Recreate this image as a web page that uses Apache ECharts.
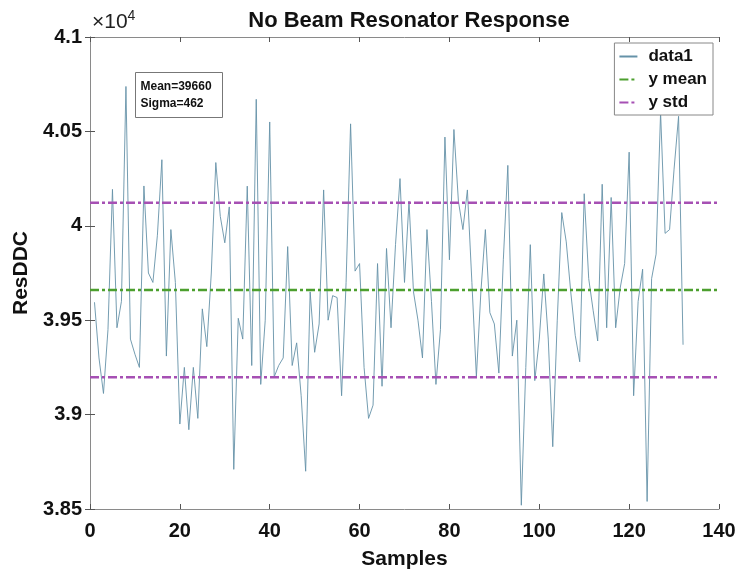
<!DOCTYPE html>
<html><head><meta charset="utf-8">
<script src="https://cdn.jsdelivr.net/npm/echarts@6/dist/echarts.min.js"></script>
<style>html,body{margin:0;padding:0;background:#fff}#c{width:747px;height:575px}</style>
</head><body><div id="c"></div>
<script>
// ResDDC value for samples 1..132
const resDDC = [
39595,39300,39112,39450,40193,39460,39600,40738,39400,39320,
39250,40211,39750,39700,39950,40350,39310,39980,39700,38950,
39250,38920,39250,38980,39560,39360,39750,40335,40050,39910,
40100,38710,39510,39400,40210,39260,40670,39160,39500,40550,
39200,39260,39300,39890,39260,39380,39100,38700,39650,39330,
39480,40190,39500,39630,39620,39100,39700,40540,39760,39800,
39250,38980,39050,39800,39150,39880,39460,39900,40250,39700,
40130,39650,39500,39300,39980,39600,39160,39450,40470,39820,
40510,40130,39980,40190,39700,39200,39650,39980,39540,39480,
39220,39820,40320,39310,39500,38520,39250,39900,39180,39400,
39745,39400,38830,39500,40070,39915,39650,39420,39280,40170,
39720,39550,39390,40220,39460,40150,39460,39670,39800,40390,
39100,39600,39770,38540,39720,39850,40600,39960,39980,40300,
40580,39370];
const meanValue = 39660;
const sigmaValue = 462;
const xRange = [0, 140];
const yRange = [38500, 41000];
const xTickStep = 20;
const yTickStep = 500;
const statsLines = ['Mean=39660', 'Sigma=462'];

const FONT = "'Liberation Sans', Arial, Helvetica, sans-serif";
const dataPts = resDDC.map((v, i) => [i + 1, v]);
const meanPts = [[xRange[0], meanValue], [xRange[1], meanValue]];
const hiPts = [[xRange[0], meanValue + sigmaValue], [xRange[1], meanValue + sigmaValue]];
const loPts = [[xRange[0], meanValue - sigmaValue], [xRange[1], meanValue - sigmaValue]];

const chart = echarts.init(document.getElementById('c'), null, {renderer: 'canvas'});
const axisColor = '#8a8a8a';
const tickCommon = {show: true, inside: true, length: 5, lineStyle: {color: '#555', width: 1}};
const yFmt = v => String(parseFloat((v / 10000).toFixed(3)));
chart.setOption({
  animation: false,
  backgroundColor: '#fff',
  title: {
    text: 'No Beam Resonator Response',
    left: 404, top: 5, textAlign: 'center',
    textStyle: {fontFamily: FONT, fontWeight: 'bold', fontSize: 22, color: '#111'}
  },
  grid: {left: 90, right: 28, top: 37, bottom: 64, containLabel: false},
  legend: {
    right: 34, top: 43,
    orient: 'vertical',
    backgroundColor: '#fff',
    borderColor: '#888', borderWidth: 1,
    padding: [5, 6, 4, 4],
    itemGap: 6, itemWidth: 18, itemHeight: 10,
    itemStyle: {opacity: 0},
    textStyle: {fontFamily: FONT, fontWeight: 'bold', fontSize: 17, color: '#111', padding: [0, 0, 0, 6]},
    data: ['data1', 'y mean', 'y std']
  },
  xAxis: [{
    type: 'value', min: xRange[0], max: xRange[1], interval: xTickStep,
    name: 'Samples', nameLocation: 'middle', nameGap: 40,
    nameTextStyle: {fontFamily: FONT, fontWeight: 'bold', fontSize: 21, color: '#111'},
    axisLine: {show: true, lineStyle: {color: axisColor}},
    axisTick: tickCommon,
    axisLabel: {fontFamily: FONT, fontWeight: 'bold', fontSize: 20, color: '#111', margin: 12},
    splitLine: {show: false}
  }, {
    type: 'value', position: 'top', min: xRange[0], max: xRange[1], interval: xTickStep,
    axisLine: {show: true, lineStyle: {color: axisColor}},
    axisTick: tickCommon, axisLabel: {show: false}, splitLine: {show: false}
  }],
  yAxis: [{
    type: 'value', min: yRange[0], max: yRange[1], interval: yTickStep,
    name: 'ResDDC', nameLocation: 'middle', nameGap: 52, nameRotate: 90,
    nameTextStyle: {fontFamily: FONT, fontWeight: 'bold', fontSize: 21, color: '#111'},
    axisLine: {show: true, lineStyle: {color: axisColor}},
    axisTick: tickCommon,
    axisLabel: {fontFamily: FONT, fontWeight: 'bold', fontSize: 20, color: '#111', margin: 8, formatter: yFmt},
    splitLine: {show: false}
  }, {
    type: 'value', position: 'right', min: yRange[0], max: yRange[1], interval: yTickStep,
    axisLine: {show: true, lineStyle: {color: axisColor}},
    axisTick: tickCommon, axisLabel: {show: false}, splitLine: {show: false}
  }],
  series: [{
    name: 'data1', type: 'line', data: dataPts, showSymbol: false, symbol: 'none',
    lineStyle: {color: '#6592a8', width: 0.9}, itemStyle: {color: '#6592a8'}, z: 2
  }, {
    name: 'y mean', type: 'line', data: meanPts, showSymbol: false, symbol: 'none',
    lineStyle: {color: '#4c9f2e', width: 2.5, type: [9, 3, 3, 3]}, itemStyle: {color: '#4c9f2e'}, z: 3
  }, {
    name: 'y std', type: 'line', data: hiPts, showSymbol: false, symbol: 'none',
    lineStyle: {color: '#a650b4', width: 2.5, type: [9, 3, 3, 3]}, itemStyle: {color: '#a650b4'}, z: 3
  }, {
    name: 'y std', type: 'line', data: loPts, showSymbol: false, symbol: 'none',
    lineStyle: {color: '#a650b4', width: 2.5, type: [9, 3, 3, 3]}, itemStyle: {color: '#a650b4'}, z: 3
  }],
  graphic: [{
    type: 'text', left: 92, top: 9,
    style: {
      text: '{a|×10}{s|4}',
      rich: {
        a: {fontFamily: FONT, fontSize: 21, fill: '#222', verticalAlign: 'bottom'},
        s: {fontFamily: FONT, fontSize: 14, fill: '#222', verticalAlign: 'top', padding: [0, 0, 10, 0]}
      }
    }
  }, {
    type: 'group', left: 135, top: 72, z: 10,
    children: [{
      type: 'rect', shape: {x: 0, y: 0, width: 87, height: 45},
      style: {fill: '#fff', stroke: '#777', lineWidth: 1}
    }, {
      type: 'text', left: 5, top: 6,
      style: {text: statsLines.join('\n'), fontFamily: FONT, fontWeight: 'bold', fontSize: 12, lineHeight: 17, fill: '#111'}
    }]
  }]
});
</script></body></html>
